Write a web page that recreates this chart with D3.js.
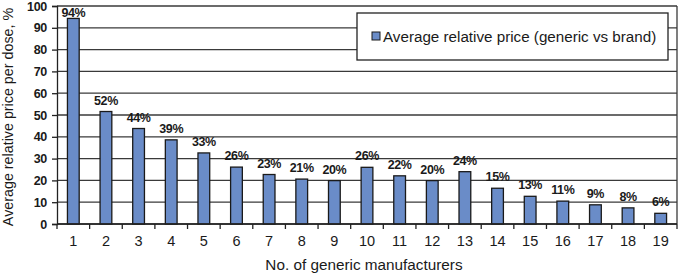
<!DOCTYPE html>
<html>
<head>
<meta charset="utf-8">
<script src="https://cdn.jsdelivr.net/npm/d3@7"></script>
<style>
  body { margin: 0; background: #fff; }
  text { font-family: "Liberation Sans", Arial, sans-serif; }
</style>
</head>
<body>
<svg id="chart" width="681" height="273"></svg>
<script>
// manufacturers count, bar values and their printed labels
var categories = ["1","2","3","4","5","6","7","8","9","10","11","12","13","14","15","16","17","18","19"];
var values = [94.3, 51.6, 43.8, 38.6, 32.6, 26.1, 22.7, 20.6, 19.9, 26, 22.1, 19.9, 24, 16.4, 12.7, 10.5, 8.8, 7.4, 4.9];
var labels = ["94%","52%","44%","39%","33%","26%","23%","21%","20%","26%","22%","20%","24%","15%","13%","11%","9%","8%","6%"];
var yTicks = [0, 10, 20, 30, 40, 50, 60, 70, 80, 90, 100];

var margin = { top: 6, right: 4, bottom: 49, left: 57 },
  width = 681 - margin.left - margin.right,
  height = 273 - margin.top - margin.bottom;

var svg = d3.select("#chart")
  .append("g")
  .attr("transform", "translate(" + margin.left + "," + margin.top + ")");

var x = d3.scaleBand().domain(categories).range([0, width]).paddingInner(0.64).paddingOuter(0.32);
var xb = d3.scaleBand().domain(categories).range([0, width]);
var y = d3.scaleLinear().domain([0, 100]).range([height, 0]);

// gridlines
svg.selectAll(".grid")
  .data(yTicks)
  .enter()
  .append("line")
  .attr("x1", 0)
  .attr("x2", width)
  .attr("y1", function (d) { return y(d); })
  .attr("y2", function (d) { return y(d); })
  .attr("stroke", "#3a3a3a")
  .attr("stroke-width", 1.3);

// right border
svg.append("line")
  .attr("x1", width).attr("x2", width)
  .attr("y1", 0).attr("y2", height)
  .attr("stroke", "#3a3a3a").attr("stroke-width", 1.3);

// bars
svg.selectAll(".bar")
  .data(values)
  .enter()
  .append("rect")
  .attr("class", "bar")
  .attr("x", function (d, i) { return x(categories[i]); })
  .attr("width", x.bandwidth())
  .attr("y", function (d) { return y(d); })
  .attr("height", function (d) { return height - y(d); })
  .attr("fill", "#6a8cc8")
  .attr("stroke", "#1a1a1a")
  .attr("stroke-width", 1.3);

// value labels (kept inside the plot at the top)
svg.selectAll(".lbl")
  .data(values)
  .enter()
  .append("text")
  .attr("x", function (d, i) { return x(categories[i]) + x.bandwidth() / 2; })
  .attr("y", function (d) { return Math.max(y(d) - 7, 11); })
  .attr("text-anchor", "middle")
  .attr("font-size", 12.5)
  .attr("font-weight", "bold")
  .attr("letter-spacing", -0.4)
  .attr("fill", "#1a1a1a")
  .text(function (d, i) { return labels[i]; });

// y axis
var yAxis = svg.append("g")
  .call(d3.axisLeft(y).tickValues(yTicks).tickSize(5).tickPadding(5));
yAxis.select(".domain").attr("stroke", "#222").attr("stroke-width", 1.3);
yAxis.selectAll(".tick line").attr("stroke", "#222").attr("stroke-width", 1.3);
yAxis.selectAll("text")
  .attr("font-size", 12.5)
  .attr("font-weight", "bold")
  .attr("letter-spacing", -0.3)
  .attr("font-family", "Liberation Sans, Arial, sans-serif")
  .attr("fill", "#1a1a1a");

// x axis: ticks on category boundaries
var xAxis = svg.append("g")
  .attr("transform", "translate(0," + height + ")");
xAxis.append("line")
  .attr("x1", 0).attr("x2", width)
  .attr("stroke", "#222").attr("stroke-width", 1.3);
xAxis.selectAll(".xt")
  .data(categories.concat(["end"]))
  .enter()
  .append("line")
  .attr("x1", function (d, i) { return i < categories.length ? xb(d) : width; })
  .attr("x2", function (d, i) { return i < categories.length ? xb(d) : width; })
  .attr("y1", 0).attr("y2", 5)
  .attr("stroke", "#222").attr("stroke-width", 1.3);
xAxis.selectAll(".xl")
  .data(categories)
  .enter()
  .append("text")
  .attr("x", function (d) { return xb(d) + xb.bandwidth() / 2; })
  .attr("y", 21.5)
  .attr("text-anchor", "middle")
  .attr("font-size", 14.5)
  .attr("fill", "#1a1a1a")
  .text(function (d) { return d; });

// axis titles
svg.append("text")
  .attr("x", width / 2 - 3)
  .attr("y", height + 46)
  .attr("text-anchor", "middle")
  .attr("font-size", 15.3)
  .attr("fill", "#1a1a1a")
  .text("No. of generic manufacturers");

svg.append("text")
  .attr("transform", "translate(" + (-44) + "," + (height / 2 + 2) + ") rotate(-90)")
  .attr("text-anchor", "middle")
  .attr("font-size", 14.3)
  .attr("fill", "#1a1a1a")
  .text("Average relative price per dose, %");

// legend
var legend = svg.append("g").attr("transform", "translate(300,7)");
legend.append("rect")
  .attr("width", 311).attr("height", 47)
  .attr("fill", "#fff")
  .attr("stroke", "#222").attr("stroke-width", 1.3);
legend.append("rect")
  .attr("x", 15).attr("y", 19)
  .attr("width", 8).attr("height", 8)
  .attr("fill", "#6a8cc8")
  .attr("stroke", "#1a1a1a").attr("stroke-width", 1);
legend.append("text")
  .attr("x", 26).attr("y", 29)
  .attr("font-size", 15.2)
  .attr("fill", "#1a1a1a")
  .text("Average relative price (generic vs brand)");
</script>
</body>
</html>
